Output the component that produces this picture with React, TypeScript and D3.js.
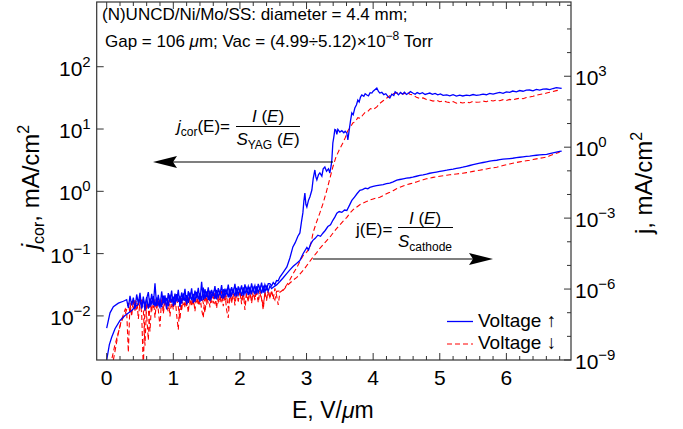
import React from 'react';
import * as d3 from 'd3';

// ---- Axis ranges ----
const E_DOMAIN: [number, number] = [-0.15, 6.97];
const JCOR_DOMAIN: [number, number] = [1.96e-3, 1.094e3];
const J_DOMAIN: [number, number] = [1e-9, 1.38e6];

// ---- Tick values ----
const X_TICKS = [0, 1, 2, 3, 4, 5, 6];
const X_MINOR_TICKS = d3.range(0.2, 6.95, 0.2);
const JCOR_TICK_EXPS = [-2, -1, 0, 1, 2];
const J_TICK_EXPS = [-9, -6, -3, 0, 3];
const J_MINOR_EXPS = [-8, -7, -5, -4, -2, -1, 1, 2, 4, 5, 6];

const NOISE_STEP = 0.025;

// ---- j_cor, voltage up (left axis, mA/cm^2) ----
const JCOR_UP_START: [number, number][] = [
  [0.0, 0.00635], [0.05, 0.0112], [0.1, 0.0141], [0.175, 0.016], [0.25, 0.0172],
];
const JCOR_UP_NOISE_E0 = 0.3;
const JCOR_UP_NOISE = [
  0.0182, 0.0135, 0.021, 0.0148, 0.0196, 0.0128, 0.0221, 0.0157, 0.0235, 0.0131,
  0.0204, 0.0122, 0.0189, 0.0241, 0.014, 0.0226, 0.015, 0.0335, 0.0145, 0.0218,
  0.0132, 0.0247, 0.0158, 0.0214, 0.0127, 0.0232, 0.0166, 0.0256, 0.0143, 0.0228,
  0.0171, 0.0262, 0.0139, 0.0238, 0.0178, 0.0271, 0.0152, 0.0249, 0.0186, 0.0276,
  0.0161, 0.0255, 0.0192, 0.0283, 0.0168, 0.0352, 0.0179, 0.0268, 0.0201, 0.0287,
  0.0173, 0.0262, 0.0208, 0.0301, 0.0184, 0.0279, 0.0215, 0.0312, 0.0189, 0.0274,
  0.0221, 0.0318, 0.0196, 0.0289, 0.023, 0.0326, 0.0205, 0.0297, 0.0238, 0.0309,
  0.0214, 0.0321, 0.0246, 0.0298, 0.0222, 0.0334, 0.0251, 0.0306, 0.0229, 0.0327,
  0.0259, 0.0341, 0.0236, 0.0318, 0.0268, 0.0329,
];
const JCOR_UP_MAIN: [number, number][] = [
  [2.45, 0.0329], [2.475, 0.0302], [2.5, 0.0345], [2.525, 0.0318], [2.55, 0.037], [2.575, 0.0366],
  [2.6, 0.042], [2.65, 0.05], [2.705, 0.061], [2.75, 0.085], [2.795, 0.128], [2.83, 0.15],
  [2.87, 0.19], [2.9, 0.215], [2.925, 0.33], [2.945, 0.45], [2.96, 0.7], [2.975, 0.94],
  [2.99, 0.62], [3.005, 0.56], [3.03, 0.72], [3.05, 0.81], [3.08, 1.05], [3.1, 1.6],
  [3.125, 2.2], [3.14, 1.7], [3.155, 1.52], [3.18, 1.85], [3.2, 1.97], [3.23, 1.75],
  [3.25, 2.3], [3.275, 2.46], [3.3, 2.1], [3.33, 2.3], [3.35, 1.97], [3.37, 2.6],
  [3.38, 3.18], [3.395, 5.97], [3.41, 7.5], [3.425, 9.8], [3.44, 9.64], [3.455, 8.2],
  [3.47, 9.9], [3.5, 8.95], [3.53, 9.4], [3.56, 8.7], [3.58, 9.2], [3.605, 8.6],
  [3.62, 6.67], [3.64, 9.5], [3.66, 13.5], [3.68, 18.1], [3.7, 16.9], [3.725, 21.7],
  [3.75, 24.5], [3.77, 29.2], [3.79, 27.1], [3.81, 32.5], [3.83, 35.2], [3.86, 33.6],
  [3.88, 36.8], [3.905, 35.2], [3.93, 34.1], [3.955, 38.3], [3.98, 37.8], [4.0, 40.5],
  [4.03, 43.2], [4.055, 45.5], [4.08, 40.1], [4.1, 37.8], [4.13, 38.9], [4.16, 35.6],
  [4.19, 36.9], [4.22, 33.4], [4.25, 31.5], [4.28, 36.2], [4.31, 34.5], [4.33, 39.6],
  [4.355, 37.8], [4.38, 35.4], [4.41, 38.6], [4.44, 36.2], [4.47, 38.9], [4.5, 35.8],
  [4.53, 37.4], [4.56, 39.8], [4.595, 37.8], [4.63, 36.1], [4.66, 38.5], [4.7, 36.7],
  [4.74, 38.3], [4.78, 35.9], [4.82, 37.1], [4.85, 37.8], [4.89, 36.0], [4.93, 37.3],
  [4.97, 35.4], [5.01, 36.6], [5.05, 34.8], [5.105, 35.2], [5.15, 34.1], [5.2, 35.6],
  [5.25, 33.7], [5.3, 34.9], [5.345, 33.9], [5.4, 35.1], [5.45, 34.3], [5.5, 35.8],
  [5.55, 34.6], [5.6, 35.2], [5.65, 36.4], [5.7, 35.5], [5.75, 37.2], [5.8, 36.3],
  [5.855, 37.8], [5.9, 38.6], [5.95, 37.5], [6.0, 39.4], [6.05, 38.8], [6.095, 40.7],
  [6.15, 39.6], [6.2, 41.5], [6.25, 40.4], [6.3, 42.1], [6.35, 42.3], [6.4, 41.0],
  [6.45, 43.2], [6.5, 42.1], [6.55, 43.6], [6.605, 43.9], [6.65, 42.8], [6.7, 44.7],
  [6.75, 46.3], [6.8, 45.5], [6.83, 44.9],
];

// ---- j_cor, voltage down (left axis, mA/cm^2) ----
const JCOR_DOWN_START: [number, number][] = [
  [0.08, 0.0021], [0.12, 0.0033], [0.15, 0.0043], [0.19, 0.0062], [0.22, 0.0085], [0.25, 0.0105], [0.28, 0.013],
];
const JCOR_DOWN_NOISE_E0 = 0.3;
const JCOR_DOWN_NOISE = [
  0.0118, 0.0026, 0.0162, 0.0098, 0.0185, 0.0121, 0.0205, 0.0089, 0.0172, 0.0112,
  0.0014, 0.0168, 0.0102, 0.0041, 0.0191, 0.0115, 0.0208, 0.0094, 0.0183, 0.0124,
  0.0067, 0.0196, 0.0108, 0.0178, 0.0131, 0.0214, 0.0098, 0.0189, 0.0126, 0.0221,
  0.0104, 0.006, 0.0198, 0.0119, 0.0226, 0.0135, 0.0192, 0.0112, 0.0229, 0.0141,
  0.0205, 0.0118, 0.0231, 0.0146, 0.0212, 0.0126, 0.0093, 0.0219, 0.0152, 0.0238,
  0.0137, 0.0224, 0.0159, 0.0245, 0.0132, 0.0229, 0.0164, 0.0251, 0.0143, 0.0236,
  0.0125, 0.0093, 0.0242, 0.0158, 0.0256, 0.0147, 0.0239, 0.0171, 0.0262, 0.0154,
  0.0248, 0.0125, 0.0232, 0.0168, 0.0265, 0.0159, 0.0251, 0.0182, 0.0269, 0.0163,
  0.0257, 0.0188, 0.0125, 0.0244, 0.0176, 0.0272, 0.0191, 0.0258, 0.0185, 0.0276,
  0.0214, 0.015,
];
const JCOR_DOWN_MAIN: [number, number][] = [
  [2.6, 0.024], [2.645, 0.026], [2.7, 0.031], [2.75, 0.038], [2.8, 0.048], [2.855, 0.06],
  [2.9, 0.075], [2.95, 0.093], [3.0, 0.105], [3.055, 0.128], [3.1, 0.22], [3.15, 0.32],
  [3.2, 0.45], [3.25, 0.65], [3.3, 1.0], [3.35, 1.6], [3.395, 2.46], [3.44, 3.5],
  [3.49, 4.6], [3.545, 5.97], [3.58, 7.2], [3.62, 9.4], [3.66, 10.8], [3.695, 12.5],
  [3.73, 13.1], [3.77, 15.2], [3.81, 14.8], [3.845, 16.8], [3.88, 18.5], [3.92, 19.2],
  [3.96, 21.3], [4.0, 20.6], [4.055, 22.6], [4.1, 25.8], [4.15, 28.4], [4.205, 31.5],
  [4.25, 34.2], [4.3, 36.9], [4.355, 37.8], [4.4, 38.6], [4.45, 36.4], [4.505, 39.3],
  [4.55, 36.1], [4.595, 35.2], [4.65, 32.4], [4.7, 30.8], [4.75, 31.6], [4.8, 29.7],
  [4.85, 29.2], [4.9, 28.1], [4.95, 29.0], [5.0, 27.4], [5.05, 28.3], [5.105, 27.2],
  [5.15, 26.5], [5.2, 27.6], [5.25, 26.0], [5.3, 26.8], [5.345, 26.2], [5.4, 27.1],
  [5.45, 26.4], [5.5, 27.8], [5.55, 26.9], [5.6, 27.2], [5.65, 28.1], [5.7, 27.4],
  [5.75, 28.9], [5.8, 28.2], [5.855, 29.2], [5.9, 28.4], [5.95, 29.6], [6.0, 28.8],
  [6.05, 29.9], [6.095, 29.2], [6.15, 30.5], [6.2, 31.2], [6.25, 30.6], [6.3, 32.1],
  [6.35, 32.7], [6.4, 33.5], [6.45, 34.8], [6.5, 35.9], [6.55, 36.6], [6.605, 37.8],
  [6.65, 38.9], [6.7, 40.1], [6.75, 41.3], [6.8, 42.3],
];

// ---- j, voltage up (right axis, mA/cm^2) ----
const J_UP_START: [number, number][] = [
  [0.0, 1.0e-9], [0.04, 4.5e-9], [0.075, 9.1e-9], [0.125, 2.1e-8], [0.2, 4.7e-8],
  [0.275, 7.6e-8], [0.375, 1.23e-7], [0.45, 2.0e-7],
];
const J_UP_NOISE_E0 = 0.475;
const J_UP_NOISE = [
  2.2e-7, 4.1e-7, 1.6e-7, 3.7e-7, 1.9e-7, 4.6e-7, 1.5e-7, 3.9e-7, 2.4e-7, 5.0e-7,
  1.8e-7, 4.4e-7, 2.1e-7, 3.5e-7, 1.7e-7, 5.3e-7, 2.5e-7, 4.2e-7, 1.9e-7, 5.8e-7,
  2.7e-7, 4.8e-7, 2.2e-7, 6.1e-7, 2.9e-7, 5.2e-7, 2.4e-7, 6.6e-7, 3.1e-7, 5.5e-7,
  2.6e-7, 7.0e-7, 3.4e-7, 6.2e-7, 2.9e-7, 7.6e-7, 3.7e-7, 6.8e-7, 3.2e-7, 1.15e-6,
  3.9e-7, 7.9e-7, 3.5e-7, 8.6e-7, 4.3e-7, 7.4e-7, 3.8e-7, 9.2e-7, 4.6e-7, 8.1e-7,
  4.1e-7, 9.8e-7, 5.0e-7, 8.7e-7, 4.5e-7, 1.05e-6, 5.4e-7, 9.3e-7, 4.9e-7, 1.12e-6,
  5.8e-7, 1.0e-6, 5.2e-7, 1.18e-6, 6.2e-7, 1.07e-6, 5.6e-7, 1.25e-6, 6.7e-7, 1.13e-6,
  6.0e-7, 1.31e-6, 7.1e-7, 1.2e-6, 6.5e-7, 1.38e-6, 7.6e-7, 1.27e-6, 8.2e-7, 1.35e-6,
  1.05e-6,
];
const J_UP_MAIN: [number, number][] = [
  [2.5, 1.2e-6], [2.55, 1.5e-6], [2.6, 2.1e-6], [2.65, 3.0e-6], [2.705, 4.6e-6], [2.75, 6.5e-6],
  [2.8, 9.2e-6], [2.85, 1.2e-5], [2.9, 1.6e-5], [2.95, 3.2e-5], [3.005, 5.8e-5], [3.03, 4.5e-5],
  [3.06, 8.0e-5], [3.095, 1.15e-4], [3.13, 1.4e-4], [3.17, 1.9e-4], [3.21, 1.7e-4], [3.245, 2.3e-4],
  [3.28, 3.0e-4], [3.32, 4.4e-4], [3.36, 5.2e-4], [3.395, 8.1e-4], [3.425, 1.1e-3], [3.455, 1.6e-3],
  [3.49, 1.9e-3], [3.53, 1.75e-3], [3.57, 2.2e-3], [3.605, 2.1e-3], [3.64, 3.3e-3], [3.68, 5.6e-3],
  [3.72, 7.8e-3], [3.76, 0.011], [3.8, 0.015], [3.84, 0.016], [3.88, 0.0185], [3.92, 0.0175],
  [3.95, 0.02], [4.0, 0.022], [4.05, 0.0235], [4.1, 0.025], [4.15, 0.026], [4.2, 0.0285],
  [4.25, 0.03], [4.3, 0.034], [4.355, 0.04], [4.4, 0.043], [4.45, 0.046], [4.5, 0.049],
  [4.55, 0.051], [4.595, 0.054], [4.65, 0.059], [4.7, 0.064], [4.75, 0.068], [4.8, 0.073],
  [4.85, 0.079], [4.9, 0.084], [4.95, 0.089], [5.0, 0.094], [5.05, 0.1], [5.105, 0.106],
  [5.15, 0.112], [5.2, 0.118], [5.25, 0.126], [5.3, 0.134], [5.345, 0.142], [5.4, 0.155],
  [5.45, 0.168], [5.5, 0.181], [5.55, 0.195], [5.6, 0.21], [5.65, 0.225], [5.7, 0.24],
  [5.75, 0.255], [5.8, 0.268], [5.855, 0.28], [5.9, 0.295], [5.95, 0.31], [6.0, 0.32],
  [6.05, 0.33], [6.095, 0.34], [6.15, 0.36], [6.2, 0.375], [6.25, 0.39], [6.3, 0.405],
  [6.35, 0.42], [6.4, 0.44], [6.45, 0.455], [6.5, 0.47], [6.55, 0.485], [6.605, 0.5],
  [6.65, 0.54], [6.7, 0.58], [6.75, 0.62], [6.8, 0.66], [6.83, 0.68],
];

// ---- j, voltage down (right axis, mA/cm^2) ----
const J_DOWN_START: [number, number][] = [
  [0.1, 1.0e-9], [0.14, 4e-9], [0.17, 1.2e-8], [0.21, 3.5e-8], [0.25, 6.5e-8], [0.28, 9.3e-8],
];
const J_DOWN_NOISE_E0 = 0.3;
const J_DOWN_NOISE = [
  1.4e-7, 2.6e-7, 9e-8, 3.1e-7, 1.5e-7, 3.4e-7, 1.2e-7, 2.9e-7, 1.7e-7, 3.6e-7,
  1.3e-7, 4.0e-9, 2.8e-7, 1.4e-7, 1.6e-8, 3.2e-7, 1.6e-7, 3.7e-7, 1.3e-7, 3.3e-7,
  1.8e-7, 3.9e-7, 1.5e-7, 3.4e-7, 1.9e-7, 1.1e-7, 3.6e-7, 1.7e-7, 4.1e-7, 2.0e-7,
  3.8e-7, 1.8e-7, 5.0e-8, 4.2e-7, 2.1e-7, 3.9e-7, 1.9e-7, 4.5e-7, 2.3e-7, 4.0e-7,
  2.0e-7, 4.7e-7, 2.4e-7, 4.3e-7, 2.2e-7, 5.0e-7, 2.6e-7, 1.0e-7, 4.8e-7, 2.5e-7,
  5.3e-7, 2.7e-7, 4.9e-7, 2.3e-7, 5.6e-7, 2.9e-7, 5.1e-7, 2.6e-7, 5.8e-7, 3.0e-7,
  5.4e-7, 1.5e-7, 6.0e-7, 3.2e-7, 5.5e-7, 2.9e-7, 6.3e-7, 3.4e-7, 5.8e-7, 3.1e-7,
  6.5e-7, 2.3e-7, 6.1e-7, 3.6e-7, 6.8e-7, 3.3e-7, 6.4e-7, 3.8e-7, 7.0e-7, 3.5e-7,
  6.7e-7, 4.0e-7, 1.9e-7, 6.9e-7, 4.2e-7, 7.3e-7, 4.4e-7, 7.0e-7, 5.1e-7, 3.5e-7,
];
const J_DOWN_MAIN: [number, number][] = [
  [2.55, 8.0e-7], [2.645, 8.7e-7], [2.7, 1.3e-6], [2.75, 1.8e-6], [2.8, 2.4e-6], [2.855, 3.1e-6],
  [2.9, 4.3e-6], [2.95, 6.2e-6], [3.0, 9.5e-6], [3.05, 1.5e-5], [3.095, 2.2e-5], [3.15, 3.4e-5],
  [3.2, 5.3e-5], [3.25, 7.6e-5], [3.3, 1.1e-4], [3.35, 1.55e-4], [3.4, 2.4e-4], [3.45, 3.6e-4],
  [3.5, 5.2e-4], [3.55, 7.4e-4], [3.605, 1.07e-3], [3.65, 1.6e-3], [3.7, 2.3e-3], [3.75, 2.9e-3],
  [3.8, 3.7e-3], [3.845, 4.3e-3], [3.9, 5.0e-3], [3.95, 5.8e-3], [4.0, 6.5e-3], [4.05, 7.1e-3],
  [4.1, 7.6e-3], [4.15, 9.0e-3], [4.2, 0.0107], [4.25, 0.0124], [4.3, 0.0145], [4.35, 0.0175],
  [4.4, 0.02], [4.45, 0.023], [4.5, 0.0255], [4.55, 0.028], [4.595, 0.03], [4.65, 0.034],
  [4.7, 0.038], [4.75, 0.042], [4.8, 0.046], [4.85, 0.049], [4.9, 0.053], [4.95, 0.056],
  [5.0, 0.059], [5.05, 0.062], [5.105, 0.065], [5.15, 0.068], [5.2, 0.071], [5.25, 0.074],
  [5.3, 0.077], [5.345, 0.079], [5.4, 0.084], [5.45, 0.089], [5.5, 0.095], [5.55, 0.1],
  [5.6, 0.106], [5.65, 0.113], [5.7, 0.12], [5.75, 0.128], [5.8, 0.135], [5.855, 0.142],
  [5.9, 0.155], [5.95, 0.168], [6.0, 0.182], [6.05, 0.196], [6.095, 0.21], [6.15, 0.225],
  [6.2, 0.24], [6.25, 0.255], [6.3, 0.268], [6.35, 0.28], [6.4, 0.3], [6.45, 0.32],
  [6.5, 0.34], [6.55, 0.36], [6.605, 0.38], [6.65, 0.43], [6.7, 0.49], [6.75, 0.55], [6.8, 0.61],
];

// ---- Layout ----
const W = 683;
const H = 429;
const PLOT = { left: 96.7, right: 571, top: 2, bottom: 360 };
const FONT = "'Liberation Sans', Arial, Helvetica, sans-serif";
const BLUE = '#0000ff';
const RED = '#ff0000';
const AXIS = '#333333';

type Pt = [number, number];

function assemble(start: Pt[], e0: number, noise: number[], main: Pt[]): Pt[] {
  const mid: Pt[] = noise.map((v, i) => [e0 + i * NOISE_STEP, v]);
  return [...start, ...mid, ...main];
}

const x = d3.scaleLinear().domain(E_DOMAIN).range([PLOT.left, PLOT.right]);
const yL = d3.scaleLog().domain(JCOR_DOMAIN).range([PLOT.bottom, PLOT.top]);
const yR = d3.scaleLog().domain(J_DOMAIN).range([PLOT.bottom, PLOT.top]);

const lineL = d3.line<Pt>().x((d) => x(d[0])).y((d) => yL(d[1]));
const lineR = d3.line<Pt>().x((d) => x(d[0])).y((d) => yR(d[1]));

function Pow10({ exp, x0, y0, anchor }: { exp: number; x0: number; y0: number; anchor: 'start' | 'end' }) {
  const e = exp < 0 ? `\u2212${-exp}` : `${exp}`;
  return (
    <text x={x0} y={y0} textAnchor={anchor} fontFamily={FONT} fontSize={21} fill="#000">
      10
      <tspan fontSize={15} dy={-9}>{e}</tspan>
    </text>
  );
}

function Arrowhead({ tipX, tipY, dir }: { tipX: number; tipY: number; dir: 1 | -1 }) {
  // dir = 1 points right, -1 points left
  const len = 24;
  const half = 6;
  const notch = 4;
  const bx = tipX - dir * len;
  const nx = tipX - dir * (len - notch);
  const d = `M${tipX},${tipY} L${bx},${tipY - half} L${nx},${tipY} L${bx},${tipY + half} Z`;
  return <path d={d} fill="#000" />;
}

export default function App() {
  const jcorUp = assemble(JCOR_UP_START, JCOR_UP_NOISE_E0, JCOR_UP_NOISE, JCOR_UP_MAIN);
  const jcorDown = assemble(JCOR_DOWN_START, JCOR_DOWN_NOISE_E0, JCOR_DOWN_NOISE, JCOR_DOWN_MAIN);
  const jUp = assemble(J_UP_START, J_UP_NOISE_E0, J_UP_NOISE, J_UP_MAIN);
  const jDown = assemble(J_DOWN_START, J_DOWN_NOISE_E0, J_DOWN_NOISE, J_DOWN_MAIN);

  const major = 7;
  const minor = 4;

  return (
    <svg
      width={W}
      height={H}
      viewBox={`0 0 ${W} ${H}`}
      style={{ position: 'absolute', left: 0, top: 0, background: '#fff' }}
    >
      <defs>
        <clipPath id="plot-clip">
          <rect x={PLOT.left} y={PLOT.top} width={PLOT.right - PLOT.left} height={PLOT.bottom - PLOT.top} />
        </clipPath>
      </defs>

      {/* curves */}
      <g clipPath="url(#plot-clip)" fill="none">
        <path d={lineL(jcorDown) ?? ''} stroke={RED} strokeWidth={1.1} strokeDasharray="5 3" />
        <path d={lineR(jDown) ?? ''} stroke={RED} strokeWidth={1.1} strokeDasharray="5 3" />
        <path d={lineR(jUp) ?? ''} stroke={BLUE} strokeWidth={1.3} />
        <path d={lineL(jcorUp) ?? ''} stroke={BLUE} strokeWidth={1.3} />
      </g>

      {/* frame */}
      <rect
        x={PLOT.left}
        y={PLOT.top}
        width={PLOT.right - PLOT.left}
        height={PLOT.bottom - PLOT.top}
        fill="none"
        stroke={AXIS}
        strokeWidth={1.2}
      />

      {/* bottom & top ticks */}
      <g stroke={AXIS} strokeWidth={1}>
        {X_TICKS.map((t) => (
          <g key={`xt${t}`}>
            <line x1={x(t)} x2={x(t)} y1={PLOT.bottom} y2={PLOT.bottom - major} />
            <line x1={x(t)} x2={x(t)} y1={PLOT.top} y2={PLOT.top + major} />
          </g>
        ))}
        {X_MINOR_TICKS.filter((t) => Math.abs(t - Math.round(t)) > 1e-6).map((t) => (
          <g key={`xm${t}`}>
            <line x1={x(t)} x2={x(t)} y1={PLOT.bottom} y2={PLOT.bottom - minor} />
            <line x1={x(t)} x2={x(t)} y1={PLOT.top} y2={PLOT.top + minor} />
          </g>
        ))}
        {JCOR_TICK_EXPS.map((e) => (
          <line key={`yl${e}`} x1={PLOT.left} x2={PLOT.left + major} y1={yL(10 ** e)} y2={yL(10 ** e)} />
        ))}
        {J_TICK_EXPS.map((e) => (
          <line key={`yr${e}`} x1={PLOT.right} x2={PLOT.right - major} y1={yR(10 ** e)} y2={yR(10 ** e)} />
        ))}
        {J_MINOR_EXPS.map((e) => (
          <line key={`yrm${e}`} x1={PLOT.right} x2={PLOT.right - minor} y1={yR(10 ** e)} y2={yR(10 ** e)} />
        ))}
      </g>

      {/* tick labels */}
      {X_TICKS.map((t) => (
        <text key={`xl${t}`} x={x(t)} y={385} textAnchor="middle" fontFamily={FONT} fontSize={21}>
          {t}
        </text>
      ))}
      {JCOR_TICK_EXPS.map((e) => (
        <Pow10 key={`pl${e}`} exp={e} x0={PLOT.left - 6} y0={yL(10 ** e) + 9} anchor="end" />
      ))}
      {J_TICK_EXPS.map((e) => (
        <Pow10 key={`pr${e}`} exp={e} x0={PLOT.right + 4} y0={yR(10 ** e) + 9} anchor="start" />
      ))}

      {/* axis titles */}
      <text x={(PLOT.left + PLOT.right) / 2 - 1} y={418} textAnchor="middle" fontFamily={FONT} fontSize={23}>
        E, V/<tspan fontStyle="italic">μ</tspan>m
      </text>
      <text transform="translate(39,187) rotate(-90)" textAnchor="middle" fontFamily={FONT} fontSize={24}>
        <tspan fontStyle="italic">j</tspan>
        <tspan fontSize={16} dy={5}>cor</tspan>
        <tspan dy={-5}>, mA/cm</tspan>
        <tspan fontSize={16} dy={-10}>2</tspan>
      </text>
      <text transform="translate(652,183) rotate(-90)" textAnchor="middle" fontFamily={FONT} fontSize={24}>
        j, mA/cm
        <tspan fontSize={16} dy={-10}>2</tspan>
      </text>

      {/* header */}
      <text x={102} y={20} fontFamily={FONT} fontSize={17}>
        (N)UNCD/Ni/Mo/SS: diameter = 4.4 mm;
      </text>
      <text x={105} y={47} fontFamily={FONT} fontSize={17}>
        {'Gap = 106 '}
        <tspan fontStyle="italic">μ</tspan>
        {'m; Vac = (4.99÷5.12)×10'}
        <tspan fontSize={12} dy={-7}>−8</tspan>
        <tspan dy={7}>{' Torr'}</tspan>
      </text>

      {/* upper formula with arrow to the left axis */}
      <text x={177} y={132} fontFamily={FONT} fontSize={17}>
        <tspan fontStyle="italic">j</tspan>
        <tspan fontSize={12} dy={4}>cor</tspan>
        <tspan dy={-4}>(E)=</tspan>
      </text>
      <text x={268} y={122} textAnchor="middle" fontFamily={FONT} fontSize={17}>
        <tspan fontStyle="italic">I</tspan>
        {' ('}
        <tspan fontStyle="italic">E</tspan>
        {')'}
      </text>
      <line x1={236} x2={300} y1={126.5} y2={126.5} stroke="#000" strokeWidth={1} />
      <text x={268} y={145} textAnchor="middle" fontFamily={FONT} fontSize={17}>
        <tspan fontStyle="italic">S</tspan>
        <tspan fontSize={12} dy={4}>YAG</tspan>
        <tspan dy={-4}>{' ('}</tspan>
        <tspan fontStyle="italic">E</tspan>
        {')'}
      </text>
      <line x1={333} x2={170} y1={162} y2={162} stroke="#000" strokeWidth={1.2} />
      <Arrowhead tipX={153} tipY={162} dir={-1} />

      {/* lower formula with arrow to the right axis */}
      <text x={356} y={235} fontFamily={FONT} fontSize={17}>
        j(E)=
      </text>
      <text x={425} y={224} textAnchor="middle" fontFamily={FONT} fontSize={17}>
        <tspan fontStyle="italic">I</tspan>
        {' ('}
        <tspan fontStyle="italic">E</tspan>
        {')'}
      </text>
      <line x1={398} x2={453} y1={227.5} y2={227.5} stroke="#000" strokeWidth={1} />
      <text x={425} y={247} textAnchor="middle" fontFamily={FONT} fontSize={17}>
        <tspan fontStyle="italic">S</tspan>
        <tspan fontSize={12} dy={4}>cathode</tspan>
      </text>
      <line x1={313} x2={476} y1={259} y2={259} stroke="#000" strokeWidth={1.2} />
      <Arrowhead tipX={493} tipY={259} dir={1} />

      {/* legend */}
      <line x1={447} x2={473} y1={321.5} y2={321.5} stroke={BLUE} strokeWidth={1.3} />
      <text x={478} y={327} fontFamily={FONT} fontSize={19}>
        Voltage ↑
      </text>
      <line x1={447} x2={473} y1={344} y2={344} stroke={RED} strokeWidth={1.1} strokeDasharray="5 3" />
      <text x={478} y={349} fontFamily={FONT} fontSize={19}>
        Voltage ↓
      </text>
    </svg>
  );
}
